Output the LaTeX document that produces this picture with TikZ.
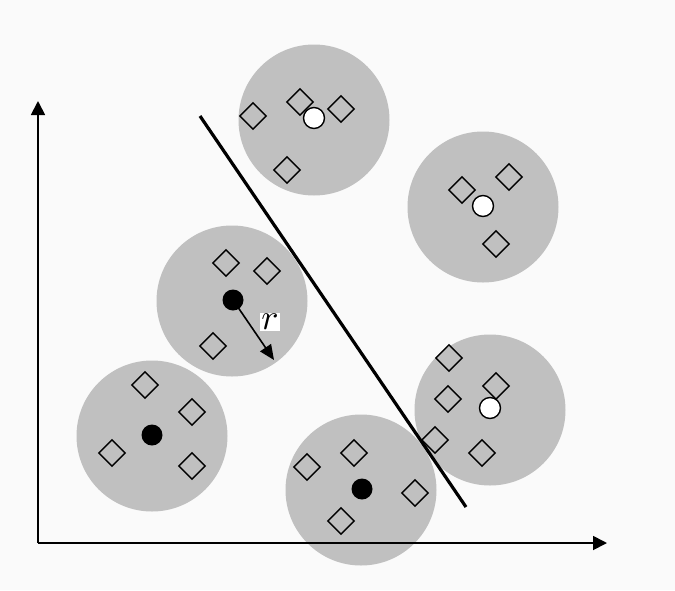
\documentclass[tikz,border=0pt]{standalone}
\usetikzlibrary{shapes.geometric,arrows.meta}
\definecolor{bgc}{HTML}{FAFAFA}
\definecolor{blob}{HTML}{C0C0C0}
\begin{document}
\begin{tikzpicture}[x=1pt,y=-1pt,
  blobc/.style={circle,fill=blob,minimum size=151pt,inner sep=0pt},
  dia/.style={diamond,draw=black,line width=1.4pt,minimum width=27pt,minimum height=27pt,inner sep=0pt},
  bdot/.style={circle,fill=black,minimum size=21pt,inner sep=0pt},
  wdot/.style={circle,fill=white,draw=black,line width=1.4pt,minimum size=21pt,inner sep=0pt},
  axis/.style={line width=1.8pt,-{Triangle[length=14pt,width=14pt]}},
  sep/.style={line width=3.2pt}]
\fill[bgc] (0,0) rectangle (675,590);
\useasboundingbox (0,0) rectangle (675,590);
% clusters
\node[blobc] (c1) at (152,436) {};
\node[blobc] (c2) at (232,301) {};
\node[blobc] (c3) at (314,120) {};
\node[blobc] (c4) at (483,207) {};
\node[blobc] (c5) at (490,410) {};
\node[blobc] (c6) at (361,490) {};
% axes
\coordinate (O) at (38,543);
\coordinate (Y) at (38,101);
\coordinate (X) at (607,543);
\draw[axis] (O) -- (Y);
\draw[axis] (O) -- (X);
% separating line
\coordinate (sa) at (200,116);
\coordinate (sb) at (466,507);
\draw[sep] (sa) -- (sb);
% diamonds
\node[dia] (d11) at (145,385) {};
\node[dia] (d12) at (192,412) {};
\node[dia] (d13) at (112,453) {};
\node[dia] (d14) at (192,466) {};
\node[dia] (d21) at (226,263) {};
\node[dia] (d22) at (267,271) {};
\node[dia] (d23) at (213,346) {};
\node[dia] (d31) at (253,116) {};
\node[dia] (d32) at (300,102) {};
\node[dia] (d33) at (341,109) {};
\node[dia] (d34) at (287,170) {};
\node[dia] (d41) at (462,190) {};
\node[dia] (d42) at (509,177) {};
\node[dia] (d43) at (496,244) {};
\node[dia] (d51) at (449,358) {};
\node[dia] (d52) at (496,386) {};
\node[dia] (d53) at (448,399) {};
\node[dia] (d54) at (435,440) {};
\node[dia] (d55) at (482,453) {};
\node[dia] (d61) at (354,453) {};
\node[dia] (d62) at (307,467) {};
\node[dia] (d63) at (415,493) {};
\node[dia] (d64) at (341,521) {};
% centres
\node[bdot] (b1) at (152,435) {};
\node[bdot] (b2) at (233,300) {};
\node[bdot] (b6) at (362,489) {};
\node[wdot] (w3) at (314,118) {};
\node[wdot] (w4) at (483,206) {};
\node[wdot] (w5) at (490,408) {};
% radius
\coordinate (rt) at (274,360);
\draw[line width=1.6pt,-{Triangle[length=15pt,width=13pt]}] (b2.center) -- (rt);
\node[fill=white,inner sep=1pt] (rl) at (270,322) {\scalebox{3.6}{$r$}};
\end{tikzpicture}
\end{document}
